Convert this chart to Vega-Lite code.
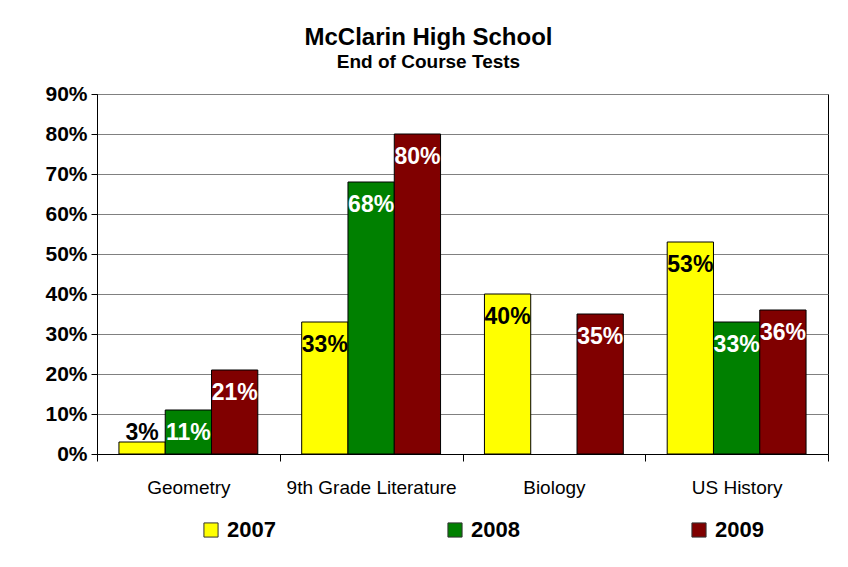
{
  "$schema": "https://vega.github.io/schema/vega-lite/v6.json",
  "width": 731,
  "height": 360,
  "autosize": "none",
  "padding": {"left": 97, "top": 94, "right": 20, "bottom": 113},
  "background": "white",
  "title": {
    "text": "McClarin High School",
    "subtitle": "End of Course Tests",
    "anchor": "middle",
    "dx": -34,
    "offset": 11,
    "font": "Liberation Sans",
    "fontSize": 24,
    "fontWeight": "bold",
    "color": "black",
    "subtitleFont": "Liberation Sans",
    "subtitleFontSize": 19,
    "subtitleFontWeight": "bold",
    "subtitleColor": "black",
    "subtitlePadding": 3
  },
  "data": {
    "values": [
      {"course": "Geometry", "year": "2007", "value": 0.03},
      {"course": "Geometry", "year": "2008", "value": 0.11},
      {"course": "Geometry", "year": "2009", "value": 0.21},
      {"course": "9th Grade Literature", "year": "2007", "value": 0.33},
      {"course": "9th Grade Literature", "year": "2008", "value": 0.68},
      {"course": "9th Grade Literature", "year": "2009", "value": 0.80},
      {"course": "Biology", "year": "2007", "value": 0.40},
      {"course": "Biology", "year": "2009", "value": 0.35},
      {"course": "US History", "year": "2007", "value": 0.53},
      {"course": "US History", "year": "2008", "value": 0.33},
      {"course": "US History", "year": "2009", "value": 0.36}
    ]
  },
  "encoding": {
    "x": {
      "field": "course",
      "type": "nominal",
      "sort": ["Geometry", "9th Grade Literature", "Biology", "US History"],
      "scale": {"paddingInner": 0, "paddingOuter": 0},
      "axis": {
        "title": null,
        "labelAngle": 0,
        "labelFont": "Liberation Sans",
        "labelFontSize": 19,
        "labelColor": "black",
        "labelPadding": 17,
        "tickBand": "extent",
        "tickSize": 7,
        "tickColor": "black",
        "domainColor": "black",
        "grid": false
      }
    },
    "xOffset": {
      "field": "year",
      "type": "nominal",
      "scale": {"domain": ["2007", "2008", "2009"], "paddingInner": 0, "paddingOuter": 0.474}
    }
  },
  "layer": [
    {
      "mark": {"type": "bar", "stroke": "black", "strokeWidth": 1},
      "encoding": {
        "y": {
          "field": "value",
          "type": "quantitative",
          "scale": {"domain": [0, 0.9], "nice": false},
          "axis": {
            "title": null,
            "values": [0, 0.1, 0.2, 0.3, 0.4, 0.5, 0.6, 0.7, 0.8, 0.9],
            "format": ".0%",
            "labelOverlap": false,
            "labelFont": "Liberation Sans",
            "labelFontSize": 21,
            "labelFontWeight": "bold",
            "labelColor": "black",
            "labelPadding": 4,
            "tickSize": 6,
            "tickColor": "black",
            "domainColor": "black",
            "grid": true,
            "gridColor": "#808080",
            "gridWidth": 1
          }
        },
        "color": {
          "field": "year",
          "type": "nominal",
          "scale": {"domain": ["2007", "2008", "2009"], "range": ["#FFFF00", "#008000", "#800000"]},
          "legend": {
            "title": null,
            "orient": "none",
            "direction": "horizontal",
            "legendX": 103,
            "legendY": 425,
            "padding": 0,
            "columnPadding": 168,
            "symbolType": "square",
            "symbolSize": 200,
            "symbolStrokeColor": "#333333",
            "symbolStrokeWidth": 1,
            "symbolOpacity": 1,
            "labelFont": "Liberation Sans",
            "labelFontSize": 22,
            "labelFontWeight": "bold",
            "labelColor": "black",
            "labelOffset": 5
          }
        }
      }
    },
    {
      "transform": [{"calculate": "max(datum.value, 0.11)", "as": "labelY"}],
      "mark": {
        "type": "text",
        "baseline": "middle",
        "align": "center",
        "dy": 23,
        "font": "Liberation Sans",
        "fontSize": 23,
        "fontWeight": "bold"
      },
      "encoding": {
        "y": {
          "field": "labelY",
          "type": "quantitative",
          "axis": {
            "title": null,
            "values": [0, 0.1, 0.2, 0.3, 0.4, 0.5, 0.6, 0.7, 0.8, 0.9],
            "format": ".0%",
            "labelOverlap": false,
            "labelFont": "Liberation Sans",
            "labelFontSize": 21,
            "labelFontWeight": "bold",
            "labelColor": "black",
            "labelPadding": 4,
            "tickSize": 6,
            "tickColor": "black",
            "domainColor": "black",
            "grid": true,
            "gridColor": "#808080",
            "gridWidth": 1
          }
        },
        "text": {"field": "value", "type": "quantitative", "format": ".0%"},
        "color": {
          "condition": {"test": "datum.year == '2007'", "value": "black"},
          "value": "white"
        }
      }
    }
  ],
  "config": {
    "view": {"stroke": "black", "strokeWidth": 1}
  }
}
